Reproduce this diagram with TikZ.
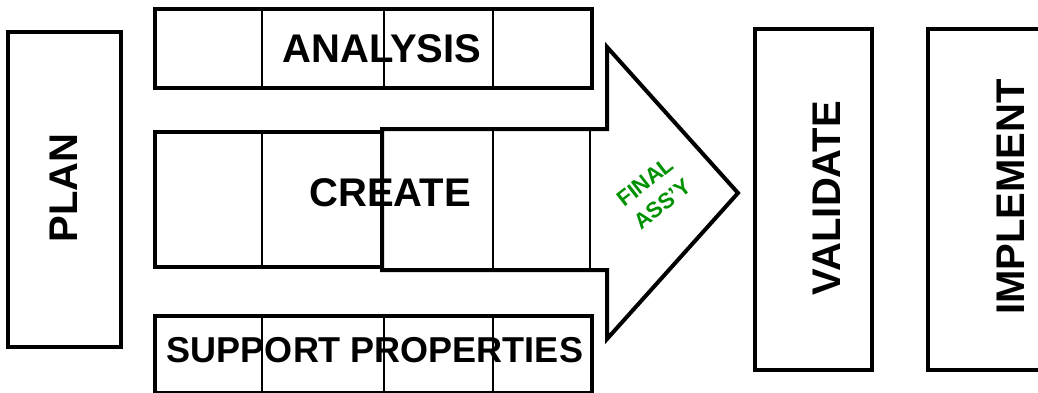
\documentclass[tikz,border=0pt]{standalone}
\usepackage{fontspec}
\setmainfont{Liberation Sans}
\definecolor{assygreen}{RGB}{0,145,0}

\begin{document}
\begin{tikzpicture}[x=1pt,y=-1pt,line join=miter,
  stage/.style={draw,line width=4pt,inner sep=0pt},
  divider/.style={line width=1.8pt},
  title/.style={font=\bfseries\fontsize{40}{40}\selectfont,inner sep=0pt},
  note/.style={font=\bfseries\fontsize{22}{28}\selectfont,text=assygreen,align=center,inner sep=0pt}]

  \useasboundingbox (0,0) rectangle (1038,392);

  % side stages
  \node[stage,minimum width=113pt,minimum height=315pt] (plan) at (64.5,189.5) {};
  \node[stage,minimum width=117pt,minimum height=341pt] (validate) at (813.5,199.5) {};
  \node[stage,minimum width=117pt,minimum height=341pt] (implement) at (986.5,199.5) {};

  % the three strips
  \node[stage,minimum width=437pt,minimum height=79pt] (analysis) at (373.5,48.5) {};
  \node[stage,minimum width=437pt,minimum height=77pt] (support) at (373.5,354.5) {};
  \draw[line width=4pt] (155,132) rectangle (382,267);
  \draw[line width=4pt] (382,129) -- (607,129) -- (607,47) -- (738,193)
    -- (607,339) -- (607,270) -- (382,270) -- cycle;

  \foreach \x in {262,384,493} {
    \draw[divider] (\x,9) -- (\x,88);
    \draw[divider] (\x,316) -- (\x,393);
  }
  \draw[divider] (262,132) -- (262,267);
  \foreach \x in {493,590}
    \draw[divider] (\x,129) -- (\x,270);

  \node[title,rotate=90] (plan text) at (64,188) {PLAN};
  \node[title] (analysis text) at (382,49) {ANALYSIS};
  \node[title] (create text) at (390,193) {CREATE};
  \node[title,font=\bfseries\fontsize{36}{40}\selectfont] (support text) at (375,350) {SUPPORT PROPERTIES};
  \node[title,rotate=90] (validate text) at (827,198) {VALIDATE};
  \node[title,rotate=90] (implement text) at (1011,197) {IMPLEMENT};
  \node[note,rotate=38] (assy text) at (654,193) {FINAL\\ASS’Y};
\end{tikzpicture}
\end{document}
